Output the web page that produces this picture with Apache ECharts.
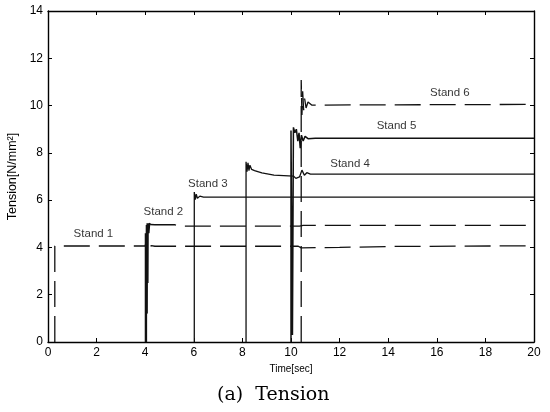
<!DOCTYPE html>
<html>
<head>
<meta charset="utf-8">
<script src="https://cdn.jsdelivr.net/npm/echarts@6/dist/echarts.min.js"></script>
<style>
  html, body { margin: 0; padding: 0; background: #fff; }
  #chart { width: 550px; height: 412px; }
</style>
</head>
<body>
<div id="chart"></div>
<script>
// Axis ticks
const xTicks = [0, 2, 4, 6, 8, 10, 12, 14, 16, 18, 20];
const yTicks = [0, 2, 4, 6, 8, 10, 12, 14];

// Tension of each stand over time: [time sec, tension N/mm^2]
const stand1 = [[0.28, 0], [0.28, 4.06], [4.0, 4.06], [4.04, 4.25], [4.08, 3.9], [4.12, 4.12],
  [4.18, 3.98], [4.25, 4.08], [4.4, 4.05], [10.3, 4.05], [10.42, 3.98], [12, 4.0], [14, 4.04], [20, 4.07]];
const stand2Rise = [[4.03, 0], [4.03, 4.6], [4.06, 1.2], [4.07, 4.95], [4.09, 2.5], [4.1, 5.02],
  [4.13, 4.6], [4.16, 5.0], [4.2, 4.97]];
const stand2 = [[4.2, 4.97], [4.4, 4.96], [5.2, 4.96], [5.45, 4.9], [10.0, 4.9], [10.35, 4.9],
  [10.5, 4.93], [20, 4.93]];
const stand3 = [[6.02, 0], [6.02, 6.34], [6.06, 6.02], [6.1, 6.25], [6.15, 6.08], [6.25, 6.17],
  [6.4, 6.13], [20, 6.13]];
const stand4 = [[8.15, 0], [8.15, 7.62], [8.19, 7.2], [8.23, 7.58], [8.27, 7.25], [8.31, 7.48],
  [8.38, 7.3], [8.5, 7.25], [8.8, 7.15], [9.3, 7.06], [10.1, 7.02], [10.2, 6.92], [10.35, 6.98],
  [10.45, 7.27], [10.55, 7.05], [10.65, 7.16], [10.8, 7.1], [20, 7.1]];
const stand5 = [[10.0, 0], [10.0, 8.95], [10.03, 8.9], [10.06, 0.3], [10.1, 9.08], [10.16, 8.85],
  [10.22, 9.0], [10.28, 8.5], [10.33, 8.85], [10.38, 8.2], [10.43, 8.75], [10.5, 8.5],
  [10.58, 8.7], [10.7, 8.6], [11.0, 8.62], [20, 8.62]];
const stand6 = [[10.42, 0], [10.42, 11.08], [10.45, 9.6], [10.48, 10.6], [10.52, 9.8], [10.56, 10.3],
  [10.62, 9.9], [10.7, 10.15], [10.85, 10.02], [20, 10.05]];

// Stand name labels and their anchor points in data units
const labelNames = ['Stand 1', 'Stand 2', 'Stand 3', 'Stand 4', 'Stand 5', 'Stand 6'];
const labelX = [1.87, 4.75, 6.58, 12.43, 14.34, 16.54];
const labelY = [4.57, 5.5, 6.68, 7.54, 9.15, 10.56];

const ink = '#111';
const dash = [26, 9];
const sans = 'Liberation Sans, Arial, sans-serif';

function lineSeries(name, data, type, width) {
  return {
    name: name,
    type: 'line',
    data: data,
    showSymbol: false,
    symbol: 'none',
    silent: true,
    lineStyle: { color: ink, width: width, type: type },
    xAxisIndex: 0,
    yAxisIndex: 0,
    z: 3
  };
}

const axisFont = { fontFamily: sans, fontSize: 12, color: '#000' };

function xAx(pos, showLabel) {
  return {
    type: 'value', position: pos, min: 0, max: 20, interval: 2,
    axisLine: { show: true, onZero: false, lineStyle: { color: '#000', width: 1.4 } },
    axisTick: { show: true, inside: true, length: 4, lineStyle: { color: '#000', width: 1 } },
    axisLabel: Object.assign({ show: showLabel, margin: 5, customValues: xTicks }, axisFont),
    splitLine: { show: false }
  };
}
function yAx(pos, showLabel) {
  return {
    type: 'value', position: pos, min: 0, max: 14, interval: 2,
    axisLine: { show: true, onZero: false, lineStyle: { color: '#000', width: 1.4 } },
    axisTick: { show: true, inside: true, length: 4, lineStyle: { color: '#000', width: 1 } },
    axisLabel: Object.assign({ show: showLabel, margin: 5, customValues: yTicks }, axisFont),
    splitLine: { show: false }
  };
}

const xBottom = xAx('bottom', true);
xBottom.name = 'Time[sec]';
xBottom.nameLocation = 'middle';
xBottom.nameGap = 21;
xBottom.nameTextStyle = { fontFamily: sans, fontSize: 10, color: '#000' };

const yLeft = yAx('left', true);
yLeft.name = 'Tension[N/mm²]';
yLeft.nameLocation = 'middle';
yLeft.nameGap = 27;
yLeft.nameRotate = 90;
yLeft.nameTextStyle = { fontFamily: sans, fontSize: 12.5, color: '#000' };

const chart = echarts.init(document.getElementById('chart'), null, { renderer: 'canvas' });
chart.setOption({
  animation: false,
  backgroundColor: '#fff',
  grid: { left: 48, right: 16, top: 11, bottom: 70, containLabel: false, outerBoundsMode: 'none' },
  xAxis: [xBottom, xAx('top', false)],
  yAxis: [yLeft, yAx('right', false)],
  series: [
    lineSeries('Stand 1', stand1, dash, 1.3),
    lineSeries('Stand 2 rise', stand2Rise, 'solid', 2.4),
    lineSeries('Stand 2', stand2, dash, 1.3),
    lineSeries('Stand 3', stand3, 'solid', 1.3),
    lineSeries('Stand 4', stand4, 'solid', 1.3),
    lineSeries('Stand 5', stand5, 'solid', 1.5),
    lineSeries('Stand 6', stand6, dash, 1.3),
    {
      name: 'labels',
      type: 'scatter',
      symbolSize: 0,
      silent: true,
      data: labelNames.map((n, i) => ({ name: n, value: [labelX[i], labelY[i]] })),
      label: {
        show: true, position: 'inside', formatter: p => p.name,
        fontFamily: sans, fontSize: 11.5, color: '#000'
      },
      z: 5
    }
  ],
  graphic: [{
    type: 'text',
    left: 217,
    top: 386,
    style: {
      text: '(a)  Tension',
      font: '19px "DejaVu Serif", serif',
      fill: '#000'
    }
  }]
});
</script>
</body>
</html>
